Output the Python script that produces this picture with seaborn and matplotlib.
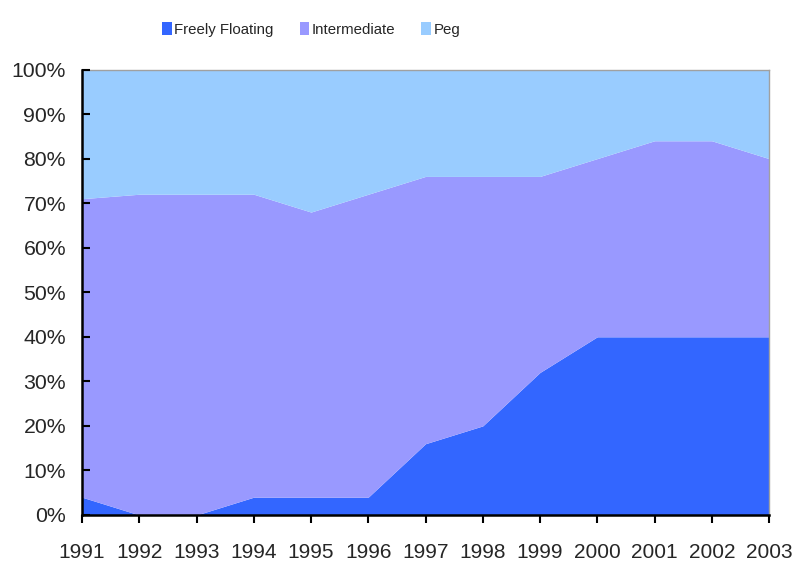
import matplotlib
matplotlib.use("Agg")
import matplotlib.pyplot as plt
from matplotlib.patches import Patch
from matplotlib.ticker import PercentFormatter
import seaborn as sns
import numpy as np

years = [1991, 1992, 1993, 1994, 1995, 1996, 1997, 1998, 1999, 2000, 2001, 2002, 2003]
freely_floating = [4, 0, 0, 4, 4, 4, 16, 20, 32, 40, 40, 40, 40]
intermediate = [67, 72, 72, 68, 64, 68, 60, 56, 44, 40, 44, 44, 40]
peg = [29, 28, 28, 28, 32, 28, 24, 24, 24, 20, 16, 16, 20]
series_names = ["Freely Floating", "Intermediate", "Peg"]
colors = ["#3366FF", "#9999FF", "#99CCFF"]

sns.set_theme(style="white")
plt.rcParams["font.family"] = ["Liberation Sans", "DejaVu Sans"]

fig = plt.figure(figsize=(7.93, 5.61), dpi=100)
ax = fig.add_axes([82 / 793, 1 - 515 / 561, (769 - 82) / 793, (515 - 69.5) / 561])
ax.set_axisbelow(False)

ax.stackplot(years, freely_floating, intermediate, peg,
             colors=colors, linewidth=0, zorder=1)

ax.set_xlim(years[0], years[-1])
ax.set_ylim(0, 100)
ax.set_xticks(years)
ax.set_xticklabels([str(y) for y in years])
ax.set_yticks(np.arange(0, 101, 10))
ax.yaxis.set_major_formatter(PercentFormatter(decimals=0))

ax.tick_params(axis="x", direction="out", length=5.5, width=1.5, color="black",
               labelsize=15, pad=14.5, bottom=True)
ax.tick_params(axis="y", direction="in", length=6, width=1.5, color="black",
               labelsize=15.3, pad=11.5, left=True)
for lbl in ax.get_yticklabels():
    lbl.set_va("center_baseline")

for side in ["left", "bottom"]:
    ax.spines[side].set_color("black")
    ax.spines[side].set_linewidth(1.8)
    ax.spines[side].set_zorder(5)
for side in ["top", "right"]:
    ax.spines[side].set_color("#A0A0A0")
    ax.spines[side].set_linewidth(1.0)

handles = [Patch(facecolor=c, edgecolor="none") for c in colors]
fig.legend(handles, series_names, loc="center", bbox_to_anchor=(311 / 793, 1 - 29.5 / 561),
           ncol=3, frameon=False, fontsize=10.8, handlelength=0.65, handleheight=0.95,
           handletextpad=0.15, columnspacing=1.75)

fig.savefig("out.png", dpi=100)
